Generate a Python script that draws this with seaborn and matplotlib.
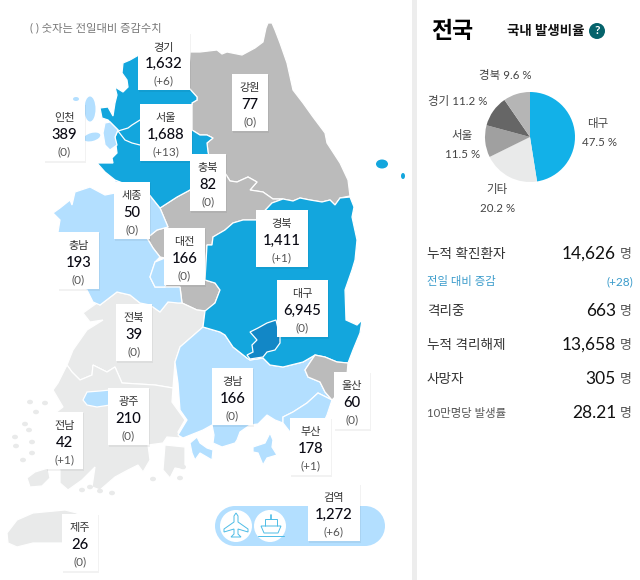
import matplotlib
matplotlib.use('Agg')
import matplotlib.pyplot as plt
import seaborn as sns
from matplotlib.patches import Polygon, Rectangle, Circle, Ellipse

# values
regions = ['경기', '서울', '인천', '충북', '강원', '세종', '충남', '대전', '경북',
           '대구', '전북', '광주', '전남', '제주', '경남', '울산', '부산', '검역']
totals = [1632, 1688, 389, 82, 77, 50, 193, 166, 1411,
          6945, 39, 210, 42, 26, 166, 60, 178, 1272]
changes = [6, 13, 0, 0, 0, 0, 0, 0, 1, 0, 0, 0, 1, 0, 0, 0, 1, 6]

pie_labels = ['대구', '기타', '서울', '경기', '경북']
pie_values = [47.5, 20.2, 11.5, 11.2, 9.6]

stat_labels = ['누적 확진환자', '전일 대비 증감', '격리중', '누적 격리해제', '사망자', '10만명당 발생률']
stat_values = ['14,626', '(+28)', '663', '13,658', '305', '28.21']

# layout, pixels of the 640x580 picture
card_left = [138, 140, 44, 190, 232, 114, 58, 164, 256, 277, 116, 108, 46, 62, 212, 334, 290, 308]
card_top = [33, 104, 104, 154, 74, 182, 232, 228, 210, 280, 304, 388, 412, 514, 368, 372, 418, 484]
card_width = [51, 51, 40, 35, 35, 35, 40, 40, 51, 50, 35, 40, 36, 35, 40, 35, 40, 51]

LIGHT = '#B3DFFF'
BLUE = '#13A6DD'
DARK = '#1287C6'
GREY = '#BBBBBB'
PALE = '#E9EAEA'
FONT = ['Lato', 'Noto Sans CJK KR', 'DejaVu Sans']

gangwon = [(190, 52), (200, 52), (217, 50), (222, 54), (227, 52), (242, 55), (255, 48), (263, 42),
           (266, 28), (268, 23), (272, 23), (275, 30), (280, 43), (287, 63), (293, 90), (303, 103),
           (313, 117), (325, 133), (327, 143), (340, 163), (348, 180), (350, 196), (340, 198),
           (335, 205), (330, 200), (322, 202), (310, 200), (300, 198), (293, 201), (283, 199),
           (273, 199), (263, 192), (250, 190), (257, 182), (248, 177), (237, 182), (230, 181),
           (225, 173), (210, 160), (208, 152), (207, 143), (213, 138), (207, 135), (200, 135),
           (192, 130), (192, 103), (197, 100), (197, 97), (188, 87)]
chungbuk = [(160, 208), (177, 197), (190, 190), (210, 160), (225, 173), (230, 181), (237, 182),
            (248, 177), (257, 182), (250, 190), (263, 192), (273, 199), (283, 199), (272, 203),
            (256, 220), (243, 220), (233, 223), (225, 230), (213, 237), (212, 245), (207, 245),
            (205, 280), (215, 283), (220, 290), (215, 303), (207, 311), (197, 310), (182, 303),
            (180, 287), (165, 287), (170, 270), (165, 258), (160, 257), (153, 248), (147, 238),
            (157, 230), (168, 227)]
gyeonggi = [(123, 63), (130, 60), (137, 56), (150, 50), (190, 50), (188, 87), (197, 97), (197, 100),
            (192, 103), (192, 130), (200, 135), (207, 135), (213, 138), (207, 143), (208, 152),
            (210, 160), (190, 190), (177, 197), (160, 208), (148, 193), (115, 180), (105, 172),
            (97, 163), (113, 163), (112, 158), (117, 153), (115, 137), (118, 130), (110, 122),
            (108, 120), (102, 118), (100, 108), (108, 107), (113, 116), (115, 103), (117, 95),
            (115, 87), (123, 92), (128, 87), (127, 80), (122, 73)]
seoul = [(118, 131), (128, 128), (132, 125), (140, 120), (160, 120), (160, 145), (140, 145),
         (132, 143), (125, 140)]
incheon = [(105, 123), (110, 122), (118, 130), (115, 137), (117, 145), (110, 150), (105, 145), (103, 133)]
chungnam = [(53, 213), (60, 208), (70, 200), (72, 205), (75, 192), (90, 187), (105, 195), (115, 193),
            (115, 180), (148, 193), (160, 208), (168, 227), (157, 230), (147, 238), (153, 248),
            (160, 257), (155, 262), (150, 277), (155, 287), (180, 287), (182, 303), (178, 303),
            (168, 302), (160, 312), (150, 305), (140, 303), (130, 295), (117, 292), (100, 305),
            (93, 302), (87, 290), (65, 285), (58, 232), (60, 220)]
daejeon = [(155, 262), (150, 277), (155, 287), (165, 287), (170, 270), (165, 258)]
gyeongbuk = [(350, 197), (340, 198), (335, 205), (330, 200), (322, 202), (310, 200), (300, 198),
             (293, 201), (283, 199), (272, 203), (256, 220), (243, 220), (233, 223), (225, 230),
             (213, 237), (212, 245), (207, 245), (205, 280), (215, 283), (220, 290), (215, 303),
             (205, 311), (203, 327), (220, 332), (225, 335), (233, 347), (247, 358), (250, 360),
             (263, 358), (270, 365), (283, 367), (303, 362), (315, 355), (325, 357), (337, 362),
             (348, 363), (353, 350), (360, 333), (362, 320), (357, 325), (346, 320), (345, 290),
             (352, 270), (355, 260), (357, 240), (352, 217), (354, 207)]
daegu = [(280, 337), (276, 320), (267, 323), (258, 328), (250, 332), (257, 340), (252, 345),
         (253, 352), (247, 355), (250, 359), (263, 357), (267, 352), (275, 350), (280, 343)]
ulsan = [(315, 355), (325, 357), (337, 362), (348, 363), (347, 375), (342, 390), (332, 400),
         (325, 392), (320, 382), (308, 377), (305, 370)]
gyeongnam = [(203, 327), (220, 332), (225, 335), (233, 347), (247, 358), (250, 360), (263, 358),
             (270, 365), (283, 367), (303, 362), (315, 355), (305, 370), (308, 377), (320, 382),
             (325, 392), (332, 400), (318, 393), (307, 403), (293, 412), (283, 417), (283, 423),
             (275, 420), (267, 415), (258, 424), (250, 425), (240, 432), (237, 440), (235, 443),
             (222, 447), (213, 443), (214, 435), (212, 425), (203, 430), (183, 438), (178, 435),
             (187, 420), (180, 410), (178, 383), (175, 362), (180, 347)]
busan = [(332, 400), (318, 393), (307, 403), (293, 412), (283, 417), (283, 423), (290, 432),
         (320, 430), (327, 415)]
jeonbuk = [(97, 303), (100, 305), (117, 292), (130, 295), (140, 303), (150, 305), (160, 312),
           (168, 302), (182, 303), (197, 310), (205, 311), (203, 327), (180, 347), (175, 362),
           (173, 388), (155, 385), (122, 383), (115, 367), (107, 372), (93, 365), (92, 375),
           (80, 380), (72, 372), (67, 365), (73, 350), (80, 340), (87, 330), (103, 320), (90, 322),
           (83, 313)]
jeonnam = [(67, 365), (72, 372), (80, 380), (92, 375), (93, 365), (107, 372), (115, 367), (122, 383),
           (155, 385), (173, 388), (172, 402), (185, 420), (178, 432), (180, 438), (167, 437),
           (163, 443), (148, 445), (150, 460), (143, 472), (138, 465), (128, 470), (115, 477),
           (100, 490), (92, 487), (95, 467), (82, 480), (68, 490), (60, 483), (60, 470), (50, 460),
           (46, 420), (63, 407), (53, 390), (58, 383)]
gwangju = [(83, 400), (87, 392), (100, 391), (110, 390), (110, 405), (97, 407), (87, 405)]
goheung = [(165, 445), (185, 447), (185, 470), (175, 468), (170, 478), (163, 470)]
jindo = [(27, 478), (35, 472), (48, 468), (50, 478), (42, 486), (30, 487)]
jeju = [(7, 533), (17, 520), (33, 513), (65, 510), (77, 513), (80, 540), (63, 543), (33, 543),
        (17, 547), (8, 543)]
namhae = [(190, 443), (197, 437), (200, 443), (207, 448), (213, 450), (212, 460), (200, 453),
          (195, 460), (192, 453)]
geoje = [(253, 447), (265, 443), (270, 433), (273, 440), (272, 447), (277, 455), (267, 458),
         (263, 465), (258, 453), (253, 452)]
pale_islands = [(30, 402), (45, 403), (36, 412), (25, 424), (29, 430), (15, 437), (16, 446),
                (32, 442), (32, 453), (23, 460), (82, 490), (90, 487), (100, 491), (112, 493),
                (153, 479), (180, 478), (183, 467)]

sns.set_theme(style='white')
plt.rcParams['font.family'] = FONT

fig = plt.figure(figsize=(6.4, 5.8), dpi=100)
ax = fig.add_axes([0, 0, 1, 1])
ax.set_xlim(0, 640)
ax.set_ylim(580, 0)
ax.axis('off')

# map
shapes = [(gangwon, GREY), (chungbuk, GREY), (jeonbuk, PALE), (jeonnam, PALE), (goheung, PALE),
          (jindo, PALE), (jeju, PALE), (gwangju, LIGHT), (chungnam, LIGHT), (daejeon, LIGHT),
          (gyeonggi, BLUE), (seoul, BLUE), (incheon, LIGHT), (gyeongnam, LIGHT), (busan, LIGHT),
          (namhae, LIGHT), (geoje, LIGHT), (gyeongbuk, BLUE), (ulsan, GREY), (daegu, DARK)]
for pts, col in shapes:
    ax.add_patch(Polygon(pts, closed=True, fc=col, ec='white', lw=0.9, zorder=2))

for x, y in pale_islands:
    ax.add_patch(Ellipse((x, y), 6, 4.5, fc=PALE, ec='none', zorder=2))
ax.add_patch(Ellipse((90, 109), 11, 25, fc=LIGHT, ec='none', zorder=2))
ax.add_patch(Ellipse((92, 137), 17, 8, angle=-15, fc=LIGHT, ec='none', zorder=2))
ax.add_patch(Ellipse((76, 99), 6, 4, fc=LIGHT, ec='none', zorder=2))
ax.add_patch(Ellipse((382, 164), 12, 9, fc=BLUE, ec='none', zorder=2))
ax.add_patch(Ellipse((403, 176), 4, 6, fc=BLUE, ec='none', zorder=2))

# pill with the airport and harbour icons
ax.add_patch(Circle((235, 526), 20, fc=LIGHT, ec='none', zorder=2))
ax.add_patch(Circle((365, 526), 20, fc=LIGHT, ec='none', zorder=2))
ax.add_patch(Rectangle((235, 506), 130, 40, fc=LIGHT, ec='none', zorder=2))
ax.add_patch(Circle((236, 526), 16, fc='white', ec='none', zorder=3))
ax.add_patch(Circle((270, 526), 16, fc='white', ec='none', zorder=3))
icon = '#4DBCE6'
plane = [(236, 513), (238, 516), (238, 522), (248, 529), (248, 532), (238, 529), (238, 534), (241, 537),
         (231, 537), (234, 534), (234, 529), (224, 532), (224, 529), (234, 522), (234, 516)]
ax.add_patch(Polygon(plane, closed=True, fc='none', ec=icon, lw=0.7, zorder=4))
hull = [(261, 526), (281, 526), (278, 533), (264, 533)]
ax.add_patch(Polygon(hull, closed=True, fc='none', ec=icon, lw=0.7, zorder=4))
cabin = [(265, 526), (265, 519), (277, 519), (277, 526)]
ax.add_patch(Polygon(cabin, closed=False, fc='none', ec=icon, lw=0.7, zorder=4))
ax.plot([271, 271], [515, 519], color=icon, lw=1.2, zorder=4)
ax.plot([258, 284], [535.5, 535.5], color=icon, lw=0.7, zorder=4)

# region cards
for i, name in enumerate(regions):
    x0, y0, w = card_left[i], card_top[i], card_width[i]
    ax.add_patch(Rectangle((x0 + 1, y0 + 1), w + 1, 58, fc='black', alpha=0.05, ec='none', zorder=5))
    ax.add_patch(Rectangle((x0, y0), w + 1, 57, fc='white', ec='none', zorder=6))
    xc = x0 + w / 2 + 0.5
    ax.text(xc, y0 + 14, name, ha='center', va='center', fontsize=8, color='#333333',
            fontweight=500, zorder=7)
    ax.text(xc, y0 + 31, f'{totals[i]:,}', ha='center', va='center', fontsize=10.6,
            color='#0A0A14', fontweight=500, zorder=7)
    chg = f'(+{changes[i]})' if changes[i] else '(0)'
    ax.text(xc, y0 + 48, chg, ha='center', va='center', fontsize=8.5, color='#555555', zorder=7)

ax.text(30, 28, '( ) 숫자는 전일대비 증감수치', ha='left', va='center', fontsize=8.1, color='#777777')

# right panel
ax.add_patch(Rectangle((412, 0), 5, 580, fc='#EDEDED', ec='none', zorder=1))
ax.text(431, 31, '전국', ha='left', va='center', fontsize=16.5, fontweight='bold', color='black')
ax.text(507, 31, '국내 발생비율', ha='left', va='center', fontsize=9.7, fontweight='bold', color='#111111')
ax.add_patch(Circle((597, 31), 8, fc='#05636B', ec='none', zorder=3))
ax.text(597, 31, '?', ha='center', va='center', fontsize=8.5, fontweight='bold', color='white', zorder=4)

pie_ax = fig.add_axes([(530 - 45) / 640, 1 - (137 + 45) / 580, 90 / 640, 90 / 580])
pie_colors = ['#12B1E8', '#E9EAEA', '#A0A0A0', '#666666', '#B5B5B5']
pie_ax.pie(pie_values, colors=pie_colors, startangle=90, counterclock=False, radius=1,
           wedgeprops={'linewidth': 0})
pie_ax.set_xlim(-1, 1)
pie_ax.set_ylim(-1, 1)

txt = '#444444'
ax.text(598, 124, pie_labels[0], ha='center', va='center', fontsize=8.3, color=txt)
ax.text(599, 142, f'{pie_values[0]} %', ha='center', va='center', fontsize=8.3, color=txt)
ax.text(497, 190, pie_labels[1], ha='center', va='center', fontsize=8.3, color=txt)
ax.text(498, 209, f'{pie_values[1]} %', ha='center', va='center', fontsize=8.3, color=txt)
ax.text(462, 135, pie_labels[2], ha='center', va='center', fontsize=8.3, color=txt)
ax.text(463, 154, f'{pie_values[2]} %', ha='center', va='center', fontsize=8.3, color=txt)
ax.text(458, 102, f'{pie_labels[3]} {pie_values[3]} %', ha='center', va='center', fontsize=8.3, color=txt)
ax.text(505, 76, f'{pie_labels[4]} {pie_values[4]} %', ha='center', va='center', fontsize=8.3, color=txt)

# stats list
row_y = [254, 282, 311, 345, 379, 413]
for i, label in enumerate(stat_labels):
    y = row_y[i]
    if i == 1:
        ax.text(427, y, label, ha='left', va='center', fontsize=8.2, color='#3A9BCB')
        ax.text(633, y, stat_values[i], ha='right', va='center', fontsize=8.5, color='#3A9BCB')
        continue
    small = i == 5
    ax.text(427, y, label, ha='left', va='center', fontsize=8.2 if small else 9.8,
            color='#555555' if small else '#333333')
    ax.text(616, y, stat_values[i], ha='right', va='center', fontsize=12.5, color='#111111')
    ax.text(632, y, '명', ha='right', va='center', fontsize=9.3, color='#555555')

plt.savefig('out.png', dpi=100)
